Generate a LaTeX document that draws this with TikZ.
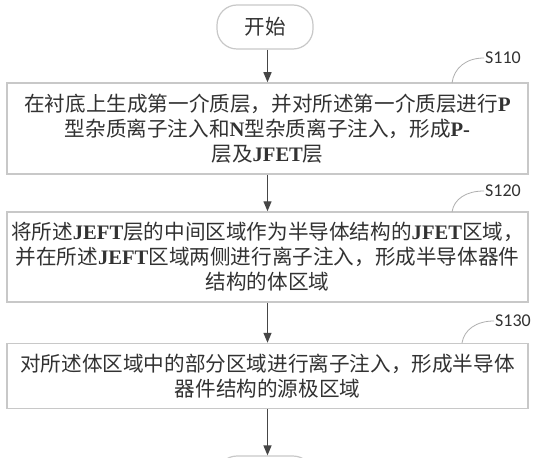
\documentclass[tikz,border=0pt]{standalone}
\usepackage{fontspec}
\usetikzlibrary{arrows.meta}
\newfontfamily\cjk{Noto Sans CJK SC}
\newfontfamily\latf{Liberation Serif}
\newfontfamily\labf{Carlito}
\newcommand\latx[1]{{\latf\bfseries #1}}
\definecolor{boxgray}{RGB}{200,200,200}
\definecolor{txtgray}{RGB}{50,50,50}
\definecolor{arrgray}{RGB}{70,70,70}
\definecolor{leadgray}{RGB}{175,175,175}
\tikzset{
  stepbox/.style={draw=boxgray, line width=1.5pt, rectangle, inner sep=0pt, minimum width=521pt,
    align=center, text=txtgray, font=\cjk\fontsize{20.6}{25}\selectfont},
  term/.style={draw=boxgray, line width=1.2pt, rounded corners=20pt, minimum width=96pt, minimum height=44pt,
    inner sep=0pt, text=txtgray, font=\cjk\fontsize{20.6}{24}\selectfont},
  arr/.style={draw=arrgray, line width=1.3pt, -{Triangle[length=10pt,width=8pt]}},
  steplabel/.style={inner sep=1pt, text=txtgray, font=\labf\fontsize{18}{20}\selectfont},
  leader/.style={draw=leadgray, line width=0.8pt}
}
\begin{document}
\begin{tikzpicture}[x=1pt,y=-1pt]
\useasboundingbox (0,0) rectangle (537,457);
\clip (0,0) rectangle (537,457);
\fill[white] (0,0) rectangle (537,457);
\node[term] (start) at (265,27) {开始};
\node[stepbox, minimum height=91pt] (b1) at (267.5,128.5) {在衬底上生成第一介质层，并对所述第一介质层进行\latx{P}\\型杂质离子注入和\latx{N}型杂质离子注入，形成\latx{P-}\\层及\latx{JFET}层};
\node[stepbox, minimum height=90pt] (b2) at (267.5,257) {将所述\latx{JEFT}层的中间区域作为半导体结构的\latx{JFET}区域，\\并在所述\latx{JEFT}区域两侧进行离子注入，形成半导体器件\\结构的体区域};
\node[stepbox, minimum height=65pt] (b3) at (267.5,376) {对所述体区域中的部分区域进行离子注入，形成半导体\\器件结构的源极区域};
\node[term] (end) at (265,478) {};
\draw[arr] (start.south -| b1.north) -- (b1.north);
\draw[arr] (b1.south) -- (b2.north);
\draw[arr] (b2.south) -- (b3.north);
\draw[arr] (b3.south) -- (b3.south |- end.north);
\node[steplabel, anchor=west] (s1) at (484,58) {S110};
\node[steplabel, anchor=west] (s2) at (484,191) {S120};
\node[steplabel, anchor=west] (s3) at (494,321) {S130};
\coordinate (c1) at (452,83);
\coordinate (c2) at (452,212);
\coordinate (c3) at (462,343);
\draw[leader] (c1) .. controls (454,68) and (466,58) .. (s1.west);
\draw[leader] (c2) .. controls (454,199) and (466,191) .. (s2.west);
\draw[leader] (c3) .. controls (464,330) and (476,321) .. (s3.west);
\end{tikzpicture}
\end{document}
